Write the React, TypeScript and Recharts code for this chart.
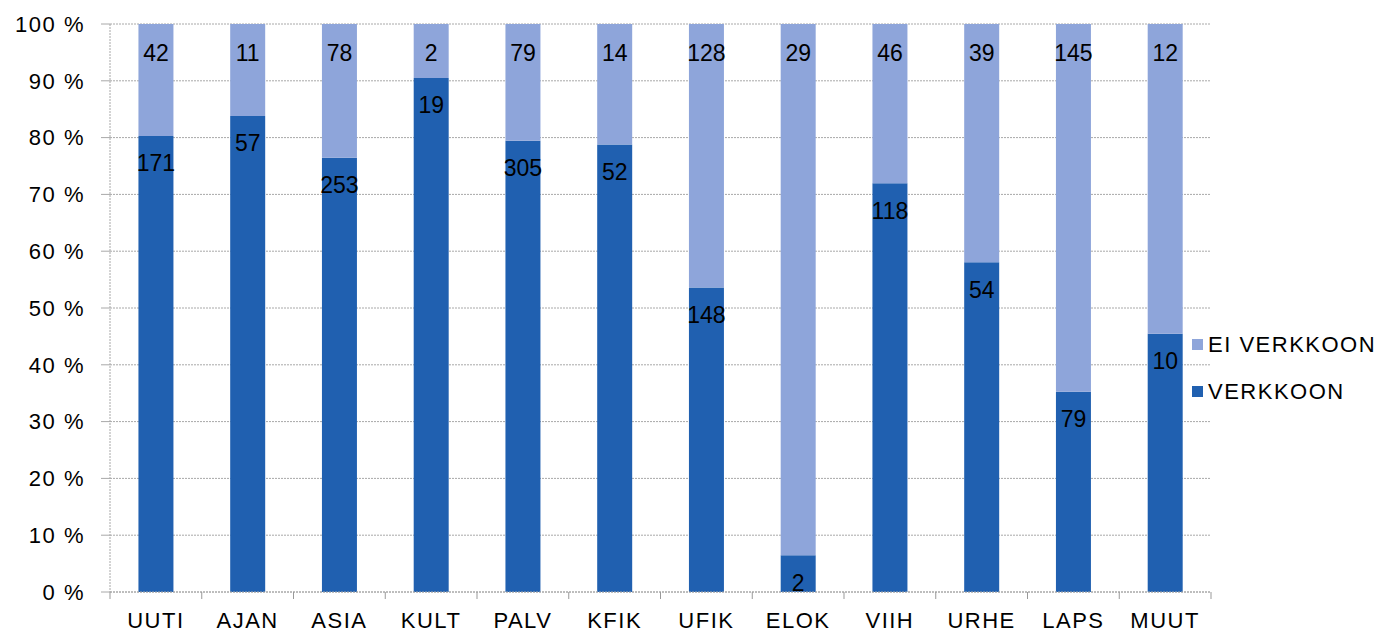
import { BarChart, Bar, XAxis, YAxis, CartesianGrid, LabelList } from "recharts";

const categories = ["UUTI", "AJAN", "ASIA", "KULT", "PALV", "KFIK", "UFIK", "ELOK", "VIIH", "URHE", "LAPS", "MUUT"];
const verkkoon = [171, 57, 253, 19, 305, 52, 148, 2, 118, 54, 79, 10];
const eiVerkkoon = [42, 11, 78, 2, 79, 14, 128, 29, 46, 39, 145, 12];
const yTicks = [0, 0.1, 0.2, 0.3, 0.4, 0.5, 0.6, 0.7, 0.8, 0.9, 1];

const DARK = "#2060b0";
const LIGHT = "#8ea5da";
const FONT = "'Liberation Sans', Arial, sans-serif";

const W = 1396;
const H = 635;
const PLOT_LEFT = 110;
const PLOT_RIGHT = 1211;
const BAND = (PLOT_RIGHT - PLOT_LEFT) / categories.length;

const chartData = categories.map((name, i) => ({
  name,
  verk: verkkoon[i],
  ei: eiVerkkoon[i],
}));

function CategoryTick(props: any) {
  const { x, y, payload, index } = props;
  const last = index === categories.length - 1;
  return (
    <g>
      <line x1={x - BAND / 2} x2={x - BAND / 2} y1={y - 8} y2={y - 1} stroke="#999" />
      {last && <line x1={x + BAND / 2} x2={x + BAND / 2} y1={y - 8} y2={y - 1} stroke="#999" />}
      <text
        x={x}
        y={y + 28}
        textAnchor="middle"
        fontSize={22}
        fontFamily={FONT}
        letterSpacing={1.5}
        fill="#000"
      >
        {payload.value}
      </text>
    </g>
  );
}

function LegendBox() {
  const items = [
    { label: "EI VERKKOON", color: LIGHT },
    { label: "VERKKOON", color: DARK },
  ];
  return (
    <div
      style={{
        position: "absolute",
        left: 1192,
        top: 321,
        fontFamily: FONT,
        fontSize: 22,
        letterSpacing: 1.5,
        color: "#000",
      }}
    >
      {items.map((it) => (
        <div key={it.label} style={{ display: "flex", alignItems: "center", height: 47 }}>
          <span style={{ width: 11, height: 11, background: it.color, marginRight: 5, display: "inline-block" }} />
          <span>{it.label}</span>
        </div>
      ))}
    </div>
  );
}

export default function App() {
  return (
    <div style={{ position: "absolute", left: 0, top: 0, width: W, height: H, background: "#fff" }}>
      <BarChart
        width={W}
        height={H}
        data={chartData}
        stackOffset="expand"
        barCategoryGap="31%"
        margin={{ top: 24, right: W - PLOT_RIGHT, left: 0, bottom: 0 }}
      >
        <CartesianGrid vertical={false} stroke="#a8a8a8" strokeDasharray="2 1" />
        <XAxis
          dataKey="name"
          height={H - 592}
          axisLine={{ stroke: "#a8a8a8", strokeDasharray: "2 1" }}
          tickLine={false}
          interval={0}
          tick={<CategoryTick />}
        />
        <YAxis
          width={PLOT_LEFT}
          domain={[0, 1]}
          ticks={yTicks}
          tickFormatter={(v: number) => `${Math.round(v * 100)} %`}
          axisLine={{ stroke: "#a8a8a8", strokeDasharray: "2 1" }}
          tickLine={{ stroke: "#a8a8a8" }}
          tickSize={9}
          tickMargin={16}
          tick={{ fontSize: 22, fontFamily: FONT, fill: "#000", letterSpacing: 1.5 }}
        />
        <Bar dataKey="verk" stackId="a" fill={DARK} isAnimationActive={false}>
          <LabelList
            dataKey="verk"
            position="insideTop"
            offset={19}
            fontSize={23}
            fontFamily={FONT}
            fill="#000"
          />
        </Bar>
        <Bar dataKey="ei" stackId="a" fill={LIGHT} isAnimationActive={false}>
          <LabelList
            dataKey="ei"
            position="insideTop"
            offset={21}
            fontSize={23}
            fontFamily={FONT}
            fill="#000"
          />
        </Bar>
      </BarChart>
      <LegendBox />
    </div>
  );
}
